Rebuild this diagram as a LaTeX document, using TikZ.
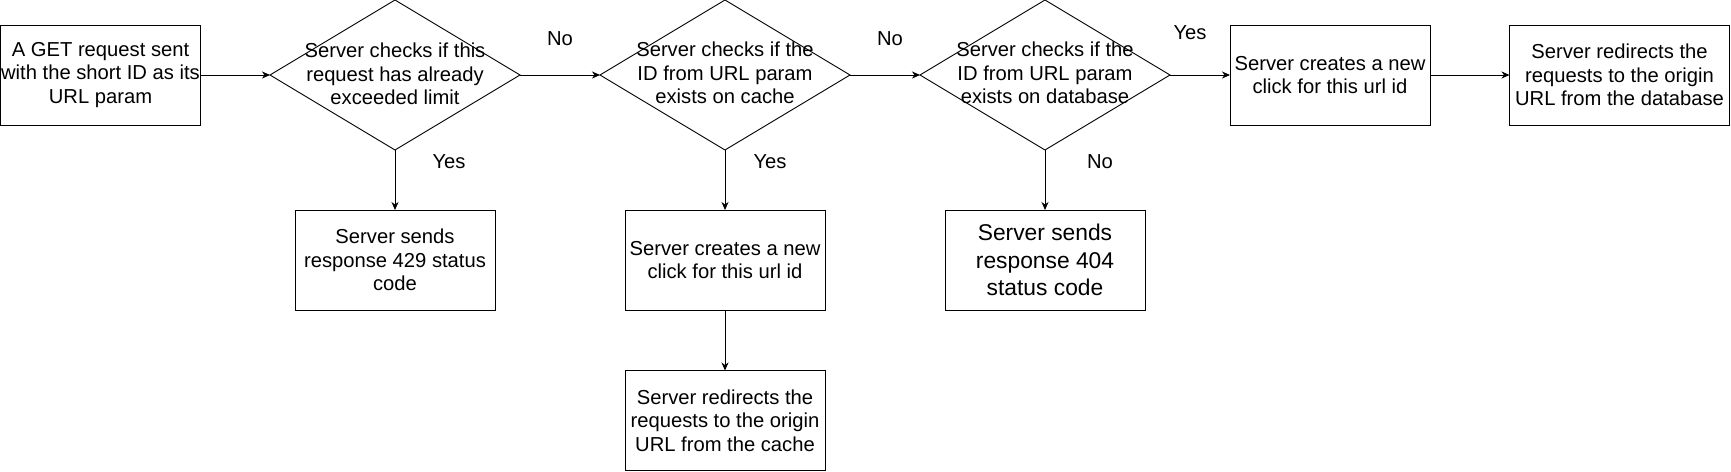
\documentclass[tikz,border=0pt]{standalone}
\usepackage{fontspec}
\setmainfont{Liberation Sans}
\usetikzlibrary{shapes.geometric,arrows.meta}
\begin{document}
\begin{tikzpicture}[x=1pt,y=-1pt,
  line width=0.9pt,
  every node/.style={font=\fontsize{20.2pt}{23.5pt}\selectfont},
  box/.style={draw, rectangle, minimum width=200pt, minimum height=100pt, inner sep=0pt, outer sep=0pt, align=center},
  dia/.style={draw, diamond, minimum width=250pt, minimum height=150pt, inner sep=0pt, outer sep=0pt},
  txt/.style={align=center, inner sep=0pt},
  lbl/.style={inner sep=0pt},
  arr/.style={-{Stealth[length=8pt,width=7pt,inset=2.5pt]}}
]
\useasboundingbox (0,0) rectangle (1731,471);

\node[box] (a) at (100.5,75) {A GET request sent\\with the short ID as its\\URL param};
\node[dia] (d1) at (395,75) {};
\node[txt] (d1t) at (395,74) {Server checks if this\\request has already\\exceeded limit};
\node[dia] (d2) at (725,75) {};
\node[txt] (d2t) at (725,73) {Server checks if the\\ID from URL param\\exists on cache};
\node[dia] (d3) at (1045,75) {};
\node[txt] (d3t) at (1045,73) {Server checks if the\\ID from URL param\\exists on database};
\node[box] (c1) at (1330,75) {Server creates a new\\click for this url id};
\node[box, minimum width=220pt] (r1) at (1619.5,75) {Server redirects the\\requests to the origin\\URL from the database};

\node[box] (s429) at (395,260) {Server sends\\response 429 status\\code};
\node[box] (c2) at (725,260) {Server creates a new\\click for this url id};
\node[box, font=\fontsize{22.8pt}{27.5pt}\selectfont] (s404) at (1045,260) {Server sends\\response 404\\status code};
\node[box] (r2) at (725,420.5) {Server redirects the\\requests to the origin\\URL from the cache};

\draw[arr] (a.east) -- (d1.west);
\draw[arr] (d1.east) -- (d2.west);
\draw[arr] (d2.east) -- (d3.west);
\draw[arr] (d3.east) -- (c1.west);
\draw[arr] (c1.east) -- (r1.west);
\draw[arr] (d1.south) -- (s429.north);
\draw[arr] (d2.south) -- (c2.north);
\draw[arr] (d3.south) -- (s404.north);
\draw[arr] (c2.south) -- (r2.north);

\node[lbl] (l1) at (560,39) {No};
\node[lbl] (l2) at (890,39) {No};
\node[lbl] (l3) at (1190,33) {Yes};
\node[lbl] (l4) at (449,162) {Yes};
\node[lbl] (l5) at (770,162) {Yes};
\node[lbl] (l6) at (1100,162) {No};
\end{tikzpicture}
\end{document}
